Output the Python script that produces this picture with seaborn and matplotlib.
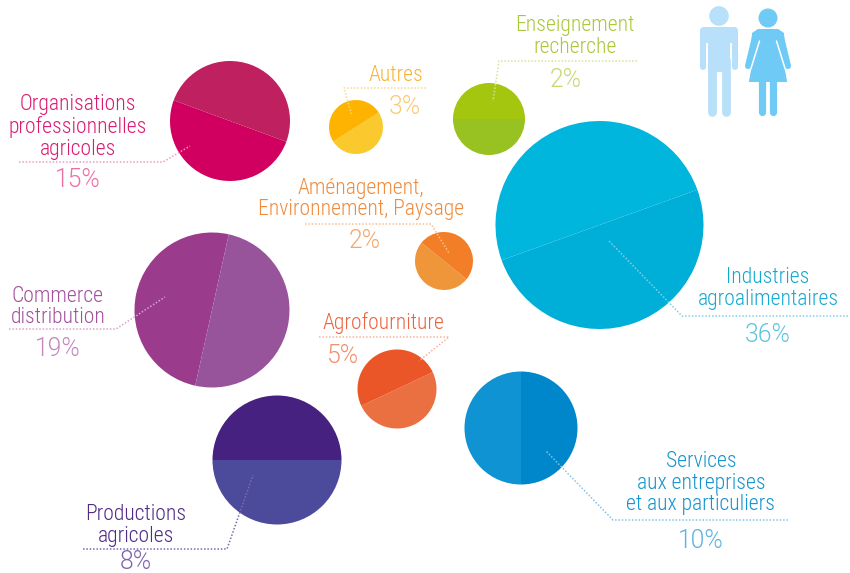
import matplotlib
matplotlib.use("Agg")
import matplotlib.pyplot as plt
from matplotlib.patches import Wedge, Circle, Polygon, FancyBboxPatch
import seaborn as sns

# ---- data ----
sectors = ["Organisations\nprofessionnelles\nagricoles", "Commerce\ndistribution", "Autres",
           "Enseignement\nrecherche", "Aménagement,\nEnvironnement, Paysage", "Agrofourniture",
           "Industries\nagroalimentaires", "Services\naux entreprises\net aux particuliers",
           "Productions\nagricoles"]
shares = [15, 19, 3, 2, 2, 5, 36, 10, 8]

# ---- layout (pixels of the 850x573 picture) ----
centers = [(230, 121), (212, 310), (356, 127), (489, 119), (444, 261), (397, 389), (599.5, 225), (521, 428), (277, 460)]
radii = [60, 77.5, 27, 36, 29, 39.5, 104, 56.5, 64.5]
# angle of the dividing line, in degrees measured clockwise on screen from +x
split = [20.2, 102.5, -32.5, 0, 39, -25.2, -19.8, 90, 0]
col_a = ["#D10060", "#9B3B8C", "#F9C92E", "#98C221", "#F0963A", "#EA7042", "#00AFD8", "#0F93D2", "#4C4B9B"]
col_b = ["#BE2060", "#97549A", "#FDB300", "#A5C60F", "#F27F27", "#EA5628", "#00B6DC", "#0087CB", "#47217F"]
label_col = ["#DB1A72", "#A2509D", "#F9B233", "#A9C737", "#F08A3C", "#EA6440", "#12A9D0", "#1593CF", "#4F2A86"]
pct_col = ["#EC6FA4", "#C488BE", "#FBCB70", "#C5DA70", "#F4A76C", "#F38F6E", "#5CC4E0", "#5CB2E2", "#7F64AC"]
leader_col = ["#F09CC0", "#D8A4D0", "#FBD98A", "#D5E49A", "#F8BE90", "#F8B49A", "#80D0E8", "#80C4EA", "#8068B0"]
label_xy = [(78, 127), (58, 307), (396, 75.5), (575, 36.5), (361, 199), (383, 323.5), (768, 288.5), (701, 483), (136, 525.5)]
pct_xy = [(78, 180), (58, 349), (405, 107), (566, 80), (365, 241), (343, 356), (768, 335), (701, 541), (136, 562)]
leaders = [[(19, 162), (163, 162), (190, 146)],
           [(9, 329), (116, 329), (165, 297)],
           [(426, 88), (344, 88), (352, 116)],
           [(637, 61), (499, 61), (493, 101)],
           [(305, 224), (431, 224), (449, 253)],
           [(319, 337), (449, 337), (419, 361)],
           [(848, 316), (682, 316), (609, 241)],
           [(788, 520), (613, 520), (546, 451)],
           [(83, 549), (227, 549), (253, 475)]]

sns.set_theme(style="white")
plt.rcParams["font.family"] = ["Roboto Condensed", "DejaVu Sans"]

fig, ax = plt.subplots(figsize=(8.5, 5.73), dpi=100)
ax.set_position([0, 0, 1, 1])
ax.set_xlim(0, 850)
ax.set_ylim(573, 0)
ax.axis("off")

for (cx, cy), r, ang, a, b in zip(centers, radii, split, col_a, col_b):
    # with the inverted y axis, theta grows clockwise on screen
    ax.add_patch(Wedge((cx, cy), r, ang, ang + 180, facecolor=a, edgecolor="none", zorder=2))
    ax.add_patch(Wedge((cx, cy), r, ang + 180, ang + 360, facecolor=b, edgecolor="none", zorder=2))

for pts, c in zip(leaders, leader_col):
    xs, ys = zip(*pts)
    sns.lineplot(x=list(xs), y=list(ys), sort=False, estimator=None, color=c, lw=1.1,
                 linestyle=(0, (1, 1.2)), ax=ax, zorder=3)

for name, v, (lx, ly), (px, py), lc, pc in zip(sectors, shares, label_xy, pct_xy, label_col, pct_col):
    ax.text(lx, ly, name, ha="center", va="center", fontsize=15.6, color=lc, weight=300,
            linespacing=1.045, zorder=4)
    ax.text(px, py, f"{v}%", ha="center", va="center", fontsize=17.8, color=pc,
            family=["Roboto", "DejaVu Sans"], weight=300, zorder=4)

# pictogram: man
man = "#B8E0FA"
ax.add_patch(Circle((719, 16), 9.8, fc=man, ec="none", zorder=2))
ax.add_patch(FancyBboxPatch((704, 31), 30, 8, boxstyle="round,pad=4", fc=man, ec="none", zorder=2))
ax.add_patch(Polygon([(708, 36), (730, 36), (730, 72), (708, 72)], fc=man, ec="none", zorder=2))
for x, y0, y1, w in [(703, 36, 67, 4.3), (735, 36, 67, 4.3), (712.5, 60, 112, 6.3), (725.8, 60, 112, 6.3)]:
    ax.plot([x, x], [y0, y1], color=man, lw=w, solid_capstyle="round", zorder=2)

# pictogram: woman
wom = "#6FCAF6"
ax.add_patch(Circle((768, 18), 9.5, fc=wom, ec="none", zorder=2))
ax.add_patch(Polygon([(758, 29), (778, 29), (784, 33), (787, 82), (749, 82), (752, 33)], fc=wom, ec="none", zorder=2))
ax.plot([755.5, 748], [35, 66], color=wom, lw=4.4, solid_capstyle="round", zorder=2)
ax.plot([780.5, 788], [35, 66], color=wom, lw=4.4, solid_capstyle="round", zorder=2)
ax.plot([759.5, 750.5], [41, 70], color="white", lw=1.1, zorder=3)
ax.plot([776.5, 785.5], [41, 70], color="white", lw=1.1, zorder=3)
ax.add_patch(Polygon([(740, 69.5), (751.5, 69.5), (749, 82), (740, 82)], fc="white", ec="none", zorder=3))
ax.add_patch(Polygon([(796, 69.5), (784.5, 69.5), (787, 82), (796, 82)], fc="white", ec="none", zorder=3))
ax.add_patch(Polygon([(751.2, 69.5), (784.8, 69.5), (787, 82), (749, 82)], fc=wom, ec="none", zorder=3))
ax.plot([762.5, 762.5], [80, 112], color=wom, lw=5.2, solid_capstyle="round", zorder=2)
ax.plot([773.5, 773.5], [80, 112], color=wom, lw=5.2, solid_capstyle="round", zorder=2)

fig.savefig("out.png", dpi=100, facecolor="white")
